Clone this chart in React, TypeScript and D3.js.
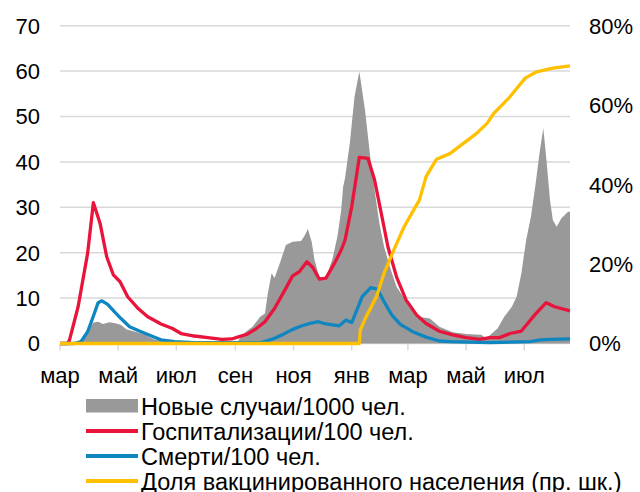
import React from 'react';
import * as d3 from 'd3';

type P = [string, number];

// Новые случаи/1000 чел. (left axis)
const casesPer1000: P[] = [
  ['2020-03-01', 0], ['2020-03-23', 0.3], ['2020-03-30', 2.6], ['2020-04-05', 4.6],
  ['2020-04-10', 4.8], ['2020-04-15', 4.3], ['2020-04-22', 4.7], ['2020-04-29', 4.4],
  ['2020-05-04', 4.1], ['2020-05-10', 3.1], ['2020-05-19', 2.6], ['2020-05-29', 1.9],
  ['2020-06-08', 0.9], ['2020-06-19', 0.4], ['2020-07-20', 0.2], ['2020-09-03', 0.4],
  ['2020-09-11', 2.4], ['2020-09-19', 3.7], ['2020-09-27', 5.9], ['2020-10-02', 6.6],
  ['2020-10-05', 11.0], ['2020-10-09', 15.5], ['2020-10-12', 14.4], ['2020-10-17', 17.3],
  ['2020-10-24', 21.7], ['2020-10-31', 22.4], ['2020-11-09', 22.6], ['2020-11-13', 23.9],
  ['2020-11-16', 25.2], ['2020-11-20', 22.4], ['2020-11-23', 18.4], ['2020-11-28', 14.7],
  ['2020-12-05', 14.4], ['2020-12-12', 18.8], ['2020-12-17', 23.5], ['2020-12-21', 29.4],
  ['2020-12-23', 34.5], ['2020-12-25', 36.4], ['2020-12-30', 44.1], ['2021-01-04', 54.4],
  ['2021-01-09', 59.9], ['2021-01-15', 51.4], ['2021-01-20', 41.9], ['2021-01-25', 33.8],
  ['2021-01-30', 26.5], ['2021-02-04', 21.3], ['2021-02-10', 16.9], ['2021-02-17', 12.5],
  ['2021-02-24', 10.3], ['2021-03-05', 7.7], ['2021-03-13', 5.9], ['2021-03-24', 5.5],
  ['2021-04-03', 3.7], ['2021-04-17', 2.5], ['2021-05-01', 2.1], ['2021-05-10', 2.0],
  ['2021-05-17', 1.9], ['2021-05-22', 1.1], ['2021-05-28', 2.2], ['2021-06-03', 3.3],
  ['2021-06-10', 5.9], ['2021-06-18', 8.1], ['2021-06-23', 10.3], ['2021-06-28', 15.5],
  ['2021-07-03', 22.8], ['2021-07-08', 27.9], ['2021-07-13', 35.3], ['2021-07-17', 41.9],
  ['2021-07-21', 47.4], ['2021-07-24', 41.1], ['2021-07-28', 31.6], ['2021-07-31', 27.2],
  ['2021-08-04', 25.7], ['2021-08-09', 27.6], ['2021-08-16', 29.0], ['2021-08-18', 29.0],
];

// Госпитализации/100 чел. (left axis)
const hospPer100: P[] = [
  ['2020-03-01', 0], ['2020-03-09', 0], ['2020-03-11', 0.8], ['2020-03-20', 8.1],
  ['2020-03-30', 19.9], ['2020-04-05', 31.0], ['2020-04-12', 26.5], ['2020-04-19', 19.1],
  ['2020-04-26', 15.1], ['2020-05-03', 13.6], ['2020-05-11', 10.3], ['2020-05-22', 7.7],
  ['2020-06-01', 5.9], ['2020-06-15', 4.3], ['2020-06-27', 3.3], ['2020-07-06', 2.2],
  ['2020-07-20', 1.65], ['2020-08-03', 1.3], ['2020-08-18', 0.9], ['2020-08-28', 1.0],
  ['2020-09-05', 1.5], ['2020-09-14', 2.1], ['2020-09-23', 3.3], ['2020-10-02', 4.8],
  ['2020-10-12', 7.7], ['2020-10-23', 11.8], ['2020-10-31', 14.9], ['2020-11-07', 15.8],
  ['2020-11-15', 18.0], ['2020-11-21', 16.8], ['2020-11-28', 14.2], ['2020-12-05', 14.4],
  ['2020-12-14', 17.7], ['2020-12-21', 20.6], ['2020-12-25', 22.8], ['2021-01-01', 30.1],
  ['2021-01-09', 41.0], ['2021-01-18', 40.8], ['2021-01-25', 36.0], ['2021-02-01', 28.7],
  ['2021-02-08', 21.3], ['2021-02-17', 14.7], ['2021-02-27', 9.6], ['2021-03-10', 6.3],
  ['2021-03-20', 4.4], ['2021-04-03', 2.7], ['2021-04-17', 1.9], ['2021-05-01', 1.3],
  ['2021-05-15', 0.9], ['2021-05-26', 1.3], ['2021-06-05', 1.3], ['2021-06-16', 2.2],
  ['2021-06-28', 2.75], ['2021-07-12', 6.3], ['2021-07-24', 9.0], ['2021-08-02', 8.1],
  ['2021-08-18', 7.2],
];

// Смерти/100 чел. (left axis)
const deathsPer100: P[] = [
  ['2020-03-01', 0], ['2020-03-16', 0], ['2020-03-23', 0.4], ['2020-03-30', 2.6],
  ['2020-04-06', 6.6], ['2020-04-10', 9.0], ['2020-04-14', 9.4], ['2020-04-20', 8.6],
  ['2020-04-27', 7.0], ['2020-05-04', 5.5], ['2020-05-13', 3.7], ['2020-05-25', 2.6],
  ['2020-06-05', 1.65], ['2020-06-15', 0.8], ['2020-06-29', 0.4], ['2020-07-20', 0.2],
  ['2020-09-28', 0.2], ['2020-10-09', 0.9], ['2020-10-20', 1.9], ['2020-10-30', 3.0],
  ['2020-11-09', 3.85], ['2020-11-16', 4.3], ['2020-11-27', 4.8], ['2020-12-05', 4.3],
  ['2020-12-12', 4.1], ['2020-12-19', 3.9], ['2020-12-26', 5.2], ['2021-01-01', 4.6],
  ['2021-01-07', 7.7], ['2021-01-12', 10.3], ['2021-01-21', 12.3], ['2021-01-28', 12.0],
  ['2021-02-04', 9.2], ['2021-02-12', 6.3], ['2021-02-21', 4.2], ['2021-03-06', 2.6],
  ['2021-03-20', 1.4], ['2021-04-03', 0.55], ['2021-04-14', 0.4], ['2021-05-26', 0.2],
  ['2021-07-07', 0.4], ['2021-07-18', 0.8], ['2021-07-29', 0.9], ['2021-08-18', 1.0],
];

// Доля вакцинированного населения, % (right axis)
const vaccinatedPct: P[] = [
  ['2020-03-01', 0], ['2021-01-09', 0], ['2021-01-10', 3.4], ['2021-01-16', 6.7],
  ['2021-01-27', 11.8], ['2021-02-04', 17.7], ['2021-02-15', 24.0], ['2021-02-25', 29.4],
  ['2021-03-06', 33.2], ['2021-03-13', 36.1], ['2021-03-20', 42.0], ['2021-03-31', 46.4],
  ['2021-04-14', 47.8], ['2021-05-12', 52.9], ['2021-05-23', 55.4], ['2021-05-30', 57.9],
  ['2021-06-16', 62.1], ['2021-07-02', 66.8], ['2021-07-14', 68.4], ['2021-07-31', 69.3],
  ['2021-08-18', 69.9],
];

const monthTicks = ['2020-03-01', '2020-05-01', '2020-07-01', '2020-09-01', '2020-11-01',
  '2021-01-01', '2021-03-01', '2021-05-01', '2021-07-01'];
const monthLabels = ['мар', 'май', 'июл', 'сен', 'ноя', 'янв', 'мар', 'май', 'июл'];
const leftTicks = [0, 10, 20, 30, 40, 50, 60, 70];
const rightTicks = [0, 20, 40, 60, 80];
const dateDomain = ['2020-03-01', '2021-08-18'];

const legendLabels = [
  'Новые случаи/1000 чел.',
  'Госпитализации/100 чел.',
  'Смерти/100 чел.',
  'Доля вакцинированного населения (пр. шк.)',
];

const GRAY = '#999999';
const RED = '#E8143C';
const BLUE = '#0E86BF';
const YELLOW = '#FFC000';
const GRID = '#d9d9d9';
const FONT = '"Liberation Sans", Arial, sans-serif';

const parse = d3.timeParse('%Y-%m-%d');

export default function App() {
  const W = 640, H = 492;
  const left = 60, right = 570, top = 25.7, bottom = 343.5;

  const x = d3.scaleTime()
    .domain(dateDomain.map(d => parse(d) as Date))
    .range([left, right]);
  const y = d3.scaleLinear().domain([0, 70]).range([bottom, top]);
  const y2 = d3.scaleLinear().domain([0, 80]).range([bottom, top]);

  const area = d3.area<P>()
    .x(d => x(parse(d[0]) as Date))
    .y0(y(0))
    .y1(d => y(d[1]));
  const lineL = d3.line<P>()
    .x(d => x(parse(d[0]) as Date))
    .y(d => y(d[1]));
  const lineR = d3.line<P>()
    .x(d => x(parse(d[0]) as Date))
    .y(d => y2(d[1]));

  const legendColors = [GRAY, RED, BLUE, YELLOW];
  const legendY0 = 414.5, legendStep = 25;

  return (
    <svg width={W} height={H} style={{ position: 'absolute', left: 0, top: 0, background: '#fff' }}
      fontFamily={FONT}>
      {/* gridlines */}
      {leftTicks.filter(t => t > 0).map(t => (
        <line key={'g' + t} x1={left} x2={right} y1={y(t)} y2={y(t)} stroke={GRID} strokeWidth={1.5} />
      ))}
      {/* x tick marks */}
      {monthTicks.map((m, i) => (
        <line key={'t' + i} x1={x(parse(m) as Date)} x2={x(parse(m) as Date)} y1={bottom} y2={bottom + 7}
          stroke={GRID} strokeWidth={1.5} />
      ))}
      <line x1={left} x2={right} y1={bottom} y2={bottom} stroke={GRID} strokeWidth={1.5} />

      <path d={area(casesPer1000) || ''} fill={GRAY} />
      <path d={lineL(hospPer100) || ''} fill="none" stroke={RED} strokeWidth={3.3} strokeLinejoin="round" />
      <path d={lineL(deathsPer100) || ''} fill="none" stroke={BLUE} strokeWidth={3.3} strokeLinejoin="round" />
      <path d={lineR(vaccinatedPct) || ''} fill="none" stroke={YELLOW} strokeWidth={3.3} strokeLinejoin="round" />

      {/* left axis labels */}
      {leftTicks.map(t => (
        <text key={'l' + t} x={40} y={y(t)} dy="0.36em" textAnchor="end" fontSize={22} fill="#000">{t}</text>
      ))}
      {/* right axis labels */}
      {rightTicks.map(t => (
        <text key={'r' + t} x={589} y={y2(t)} dy="0.36em" textAnchor="start" fontSize={22} fill="#000">{t}%</text>
      ))}
      {/* x labels */}
      {monthTicks.map((m, i) => (
        <text key={'x' + i} x={x(parse(m) as Date)} y={383} textAnchor="middle" fontSize={22} fill="#000">
          {monthLabels[i]}
        </text>
      ))}

      {/* legend */}
      {legendLabels.map((lab, i) => {
        const by = legendY0 + i * legendStep;
        return (
          <g key={'lg' + i}>
            {i === 0 ? (
              <rect x={86} y={by - 15.5} width={52} height={13.5} fill={legendColors[i]} />
            ) : (
              <line x1={86} x2={138} y1={by - 8.5} y2={by - 8.5} stroke={legendColors[i]} strokeWidth={4} />
            )}
            <text x={141} y={by} fontSize={23.5} fill="#000">{lab}</text>
          </g>
        );
      })}
    </svg>
  );
}
